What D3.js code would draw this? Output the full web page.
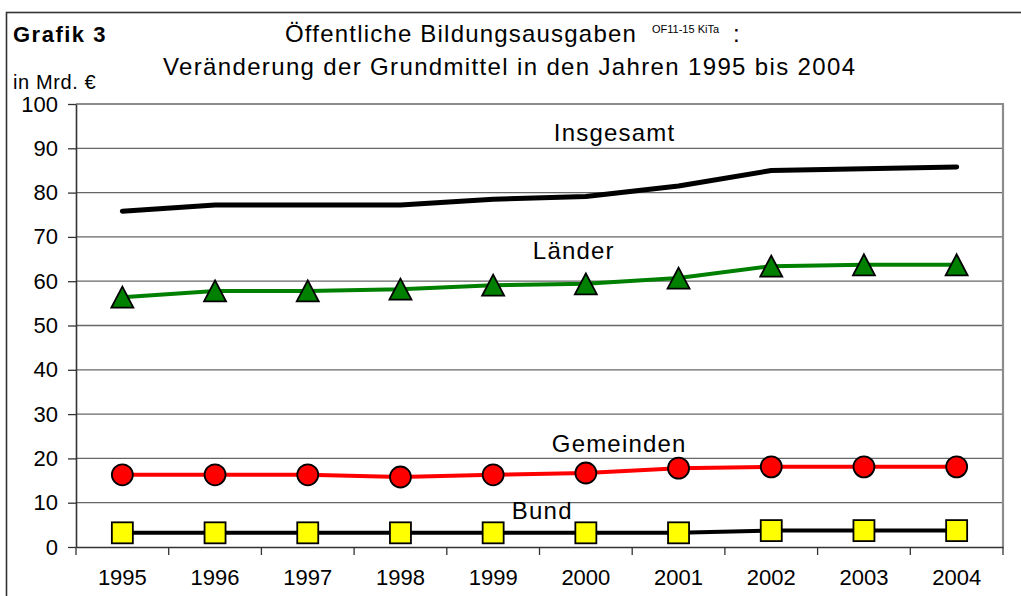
<!DOCTYPE html>
<html>
<head>
<meta charset="utf-8">
<script src="https://cdn.jsdelivr.net/npm/d3@7"></script>
<style>
  body { margin: 0; background: #fff; }
  text { font-family: "Liberation Sans", Arial, sans-serif; fill: #000; }
</style>
</head>
<body>
<div id="chart"></div>
<script>
var years = ["1995","1996","1997","1998","1999","2000","2001","2002","2003","2004"];
var insgesamt = [75.8, 77.2, 77.2, 77.2, 78.5, 79.1, 81.5, 85.0, 85.4, 85.8];
var laender   = [56.4, 57.8, 57.8, 58.2, 59.1, 59.4, 60.7, 63.4, 63.7, 63.7];
var gemeinden = [16.3, 16.3, 16.3, 15.8, 16.3, 16.7, 17.8, 18.1, 18.1, 18.1];
var bund      = [3.2, 3.2, 3.2, 3.2, 3.2, 3.2, 3.2, 3.7, 3.7, 3.7];
var yTicks = [0, 10, 20, 30, 40, 50, 60, 70, 80, 90, 100];

var W = 1021, H = 596;
var plot = { left: 76, right: 1003, top: 104, bottom: 547 };

var svg = d3.select("#chart").append("svg")
    .attr("width", W)
    .attr("height", H);

// outer frame (runs off the right and bottom edge)
svg.append("rect")
    .attr("x", 6.5).attr("y", 12.5)
    .attr("width", W + 20).attr("height", H + 20)
    .attr("fill", "none")
    .attr("stroke", "#333")
    .attr("stroke-width", 1.6);

var x = d3.scaleBand()
    .domain(years)
    .range([plot.left, plot.right])
    .paddingInner(0).paddingOuter(0);

var y = d3.scaleLinear()
    .domain([0, 100])
    .range([plot.bottom, plot.top]);

// fractional category position, used for the series labels
var xi = d3.scaleLinear()
    .domain([0, years.length - 1])
    .range([x(years[0]) + x.bandwidth() / 2, x(years[years.length - 1]) + x.bandwidth() / 2]);

// gridlines
svg.append("g").selectAll("line").data(yTicks.slice(1, -1))
  .enter().append("line")
    .attr("x1", plot.left).attr("x2", plot.right)
    .attr("y1", function(d){ return y(d); })
    .attr("y2", function(d){ return y(d); })
    .attr("stroke", "#666")
    .attr("stroke-width", 1.3);

// plot border top + right
svg.append("path")
    .attr("d", "M" + plot.left + "," + y(100) + "H" + plot.right + "V" + plot.bottom)
    .attr("fill", "none")
    .attr("stroke", "#8c8c8c")
    .attr("stroke-width", 2.2);

// y axis
var yAxis = svg.append("g")
    .attr("transform", "translate(" + plot.left + ",0)")
    .call(d3.axisLeft(y).tickValues(yTicks).tickSize(8).tickPadding(10).tickSizeOuter(0));
yAxis.select(".domain").attr("stroke", "#333").attr("stroke-width", 1.6);
yAxis.selectAll(".tick line").attr("stroke", "#333").attr("stroke-width", 1.3);
yAxis.selectAll("text").attr("font-size", 22).attr("font-family", null);

// x axis labels
var xAxis = svg.append("g")
    .attr("transform", "translate(0," + plot.bottom + ")")
    .call(d3.axisBottom(x).tickSize(0).tickPadding(22).tickSizeOuter(0));
xAxis.select(".domain").attr("stroke", "#333").attr("stroke-width", 1.6);
xAxis.selectAll("text").attr("font-size", 22).attr("font-family", null);

// x ticks on the category boundaries
var edges = years.map(function(d){ return x(d); }).concat([plot.right]);
svg.append("g").selectAll("line").data(edges)
  .enter().append("line")
    .attr("x1", function(d){ return d; }).attr("x2", function(d){ return d; })
    .attr("y1", plot.bottom).attr("y2", plot.bottom + 8)
    .attr("stroke", "#333")
    .attr("stroke-width", 1.3);

var line = d3.line()
    .x(function(d, i){ return x(years[i]) + x.bandwidth() / 2; })
    .y(function(d){ return y(d); });

function cx(i){ return x(years[i]) + x.bandwidth() / 2; }

// Insgesamt
svg.append("path")
    .datum(insgesamt)
    .attr("d", line)
    .attr("fill", "none")
    .attr("stroke", "#000")
    .attr("stroke-width", 5)
    .attr("stroke-linecap", "round")
    .attr("stroke-linejoin", "round");

// Länder
svg.append("path")
    .datum(laender)
    .attr("d", line)
    .attr("fill", "none")
    .attr("stroke", "#008000")
    .attr("stroke-width", 4);
svg.append("g").selectAll("path").data(laender)
  .enter().append("path")
    .attr("d", function(d, i){
        var px = cx(i), py = y(d);
        return "M" + px + "," + (py - 10.5) + "L" + (px + 11) + "," + (py + 10.5) + "L" + (px - 11) + "," + (py + 10.5) + "Z";
    })
    .attr("fill", "#008000")
    .attr("stroke", "#000")
    .attr("stroke-width", 1.8)
    .attr("stroke-linejoin", "miter");

// Gemeinden
svg.append("path")
    .datum(gemeinden)
    .attr("d", line)
    .attr("fill", "none")
    .attr("stroke", "#ff0000")
    .attr("stroke-width", 4);
svg.append("g").selectAll("circle").data(gemeinden)
  .enter().append("circle")
    .attr("cx", function(d, i){ return cx(i); })
    .attr("cy", function(d){ return y(d); })
    .attr("r", 10.5)
    .attr("fill", "#ff0000")
    .attr("stroke", "#000")
    .attr("stroke-width", 1.8);

// Bund
svg.append("path")
    .datum(bund)
    .attr("d", line)
    .attr("fill", "none")
    .attr("stroke", "#000")
    .attr("stroke-width", 4);
svg.append("g").selectAll("rect").data(bund)
  .enter().append("rect")
    .attr("x", function(d, i){ return cx(i) - 10.5; })
    .attr("y", function(d){ return y(d) - 10.5; })
    .attr("width", 21).attr("height", 21)
    .attr("fill", "#ffff00")
    .attr("stroke", "#000")
    .attr("stroke-width", 1.8);

// series labels
var seriesNames = ["Insgesamt", "Länder", "Gemeinden", "Bund"];
var labelAt = [[5.31, 91.6], [4.87, 65.0], [5.36, 21.4], [4.53, 6.3]];
svg.append("g").selectAll("text").data(seriesNames)
  .enter().append("text")
    .attr("x", function(d, i){ return xi(labelAt[i][0]); })
    .attr("y", function(d, i){ return y(labelAt[i][1]); })
    .attr("text-anchor", "middle")
    .attr("font-size", 24)
    .attr("letter-spacing", 1.2)
    .text(function(d){ return d; });

// titles
svg.append("text")
    .attr("x", 13).attr("y", 42)
    .attr("font-size", 22)
    .attr("font-weight", "bold")
    .attr("letter-spacing", 1.5)
    .text("Grafik 3");

svg.append("text")
    .attr("x", 285).attr("y", 42)
    .attr("font-size", 24)
    .attr("letter-spacing", 1.2)
    .text("Öffentliche Bildungsausgaben");

svg.append("text")
    .attr("x", 652).attr("y", 33)
    .attr("font-size", 11)
    .attr("fill", "#222")
    .text("OF11-15 KiTa");

svg.append("text")
    .attr("x", 733).attr("y", 42)
    .attr("font-size", 24)
    .text(":");

svg.append("text")
    .attr("x", 163).attr("y", 75)
    .attr("font-size", 24)
    .attr("letter-spacing", 1.35)
    .text("Veränderung der Grundmittel in den Jahren 1995 bis 2004");

svg.append("text")
    .attr("x", 13).attr("y", 89)
    .attr("font-size", 20)
    .attr("letter-spacing", 0.6)
    .text("in Mrd. €");
</script>
</body>
</html>
